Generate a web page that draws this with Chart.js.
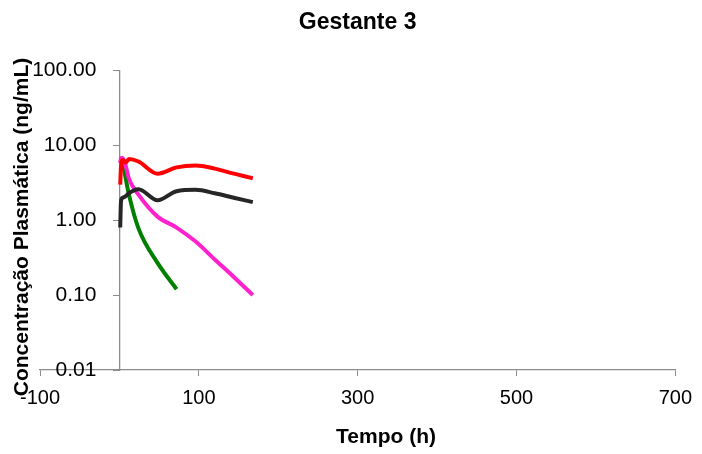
<!DOCTYPE html>
<html>
<head>
<meta charset="utf-8">
<title>Gestante 3</title>
<script src="https://cdn.jsdelivr.net/npm/chart.js@4/dist/chart.umd.min.js"></script>
<style>
  html, body { margin: 0; padding: 0; background: #fff; }
  #wrap { width: 702px; height: 454px; }
</style>
</head>
<body>
<div id="wrap"><canvas id="chart" width="702" height="454"></canvas></div>
<script>
// sampling times (h) and plasma levels (ng/mL) per curve
const hours = [1, 2, 4, 8, 12, 24, 48, 72, 96, 120, 144, 168];
const redLevels = [3.0, 5.2, 6.4, 5.9, 6.6, 6.1, 4.2, 5.1, 5.4, 4.9, 4.2, 3.65];
const blackLevels = [0.8, 1.8, 2.0, 2.1, 2.3, 2.6, 1.85, 2.45, 2.55, 2.3, 2.0, 1.75];
const pinkLevels = [5.8, 6.8, 6.8, 5.3, 3.6, 2.2, 1.12, 0.8, 0.52, 0.3, 0.175, 0.1];
const greenHours = [4, 8, 12, 24, 48, 72];
const greenLevels = [6.2, 3.6, 2.2, 0.78, 0.27, 0.12];

const xTicks = [-100, 100, 300, 500, 700];
const yTicks = [0.01, 0.1, 1, 10, 100];

const FONT = "'Liberation Sans', Arial, sans-serif";
const AXIS_GREY = "#8c8c8c";

function toPoints(xs, ys) {
  return ys.map((y, i) => ({ x: xs[i], y }));
}

function curve(label, xs, ys, color) {
  return {
    label,
    data: toPoints(xs, ys),
    borderColor: color,
    backgroundColor: color,
    borderWidth: 4,
    pointRadius: 0,
    fill: false,
    cubicInterpolationMode: "monotone",
  };
}

// y labels sit left of the y axis (which crosses at x = 0), plus both axis titles
const axisTextPlugin = {
  id: "axisText",
  afterDraw(chart) {
    const c = chart.ctx;
    const yScale = chart.scales.y;
    const axisX = chart.scales.x.getPixelForValue(0);
    c.save();
    c.fillStyle = "#000";
    c.font = `21px ${FONT}`;
    c.textAlign = "right";
    c.textBaseline = "middle";
    yScale.ticks.forEach((t) => {
      c.fillText(Number(t.value).toFixed(2), axisX - 23, yScale.getPixelForValue(t.value));
    });

    c.font = `bold 21px ${FONT}`;
    c.textAlign = "center";
    c.fillText("Tempo (h)", 386, 437);

    c.translate(22, 227);
    c.rotate(-Math.PI / 2);
    c.fillText("Concentração Plasmática (ng/mL)", 0, 0);
    c.restore();
  },
};

new Chart(document.getElementById("chart"), {
  type: "line",
  data: {
    datasets: [
      curve("Vermelho", hours, redLevels, "#ff0000"),
      curve("Preto", hours, blackLevels, "#262626"),
      curve("Rosa", hours, pinkLevels, "#ff22cc"),
      curve("Verde", greenHours, greenLevels, "#008000"),
    ],
  },
  options: {
    responsive: false,
    animation: false,
    layout: { padding: { left: 40, right: 25, top: 0, bottom: 34 } },
    plugins: {
      legend: { display: false },
      tooltip: { enabled: false },
      title: {
        display: true,
        text: "Gestante 3",
        fullSize: false,
        color: "#000",
        font: { family: FONT, size: 23, weight: "bold" },
        padding: { top: 9, bottom: 34 },
      },
    },
    scales: {
      x: {
        type: "linear",
        position: "bottom",
        min: -100,
        max: 700,
        afterBuildTicks: (scale) => {
          scale.ticks = xTicks.map((v) => ({ value: v }));
        },
        ticks: {
          color: "#000",
          padding: 10,
          font: { family: FONT, size: 20 },
          callback: (v) => String(v),
        },
        grid: { drawOnChartArea: false, drawTicks: true, tickLength: 6, color: AXIS_GREY },
        border: { color: AXIS_GREY, width: 1.3 },
      },
      y: {
        type: "logarithmic",
        position: { x: 0 },
        min: 0.01,
        max: 100,
        afterBuildTicks: (scale) => {
          scale.ticks = yTicks.map((v) => ({ value: v }));
        },
        ticks: { display: false },
        grid: { drawOnChartArea: false, drawTicks: true, tickLength: 6, color: AXIS_GREY },
        border: { color: AXIS_GREY, width: 1.3 },
      },
    },
  },
  plugins: [axisTextPlugin],
});
</script>
</body>
</html>
